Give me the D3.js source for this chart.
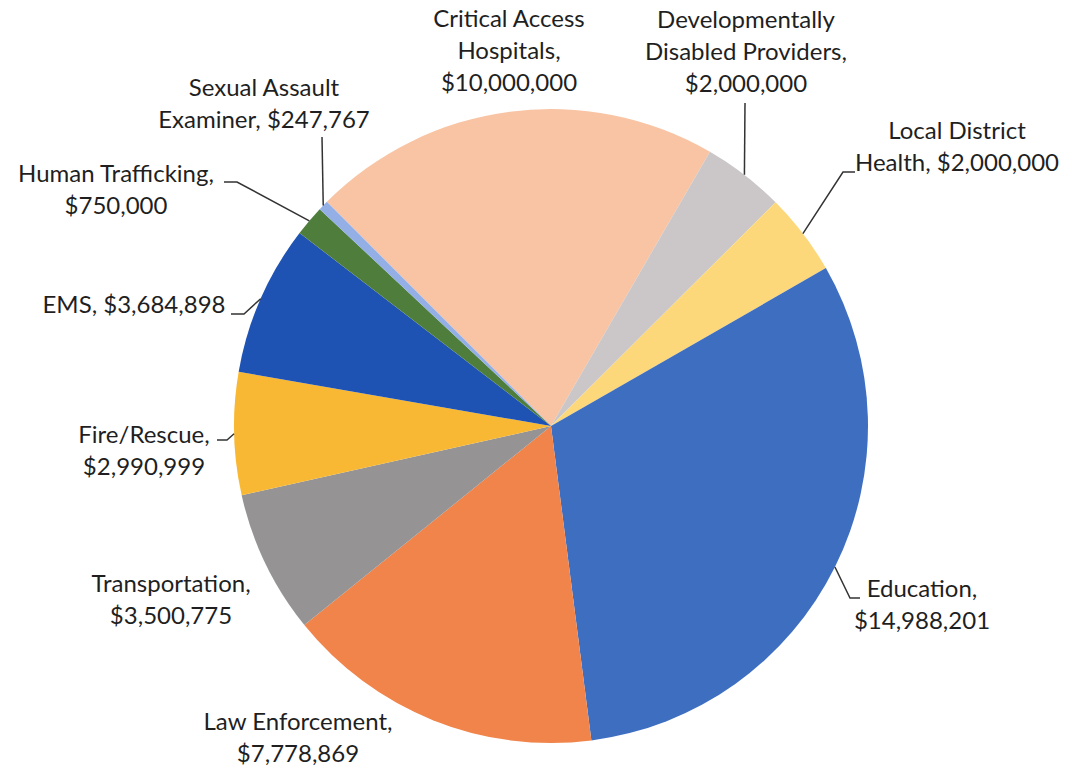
<!DOCTYPE html>
<html>
<head>
<meta charset="utf-8">
<script src="https://cdn.jsdelivr.net/npm/d3@7"></script>
<style>
  html, body { margin: 0; padding: 0; background: #ffffff; }
  svg { display: block; }
  .lbl { font-family: Lato, "Open Sans", "Noto Sans", sans-serif; fill: #1f1f1f; }
</style>
</head>
<body>
<svg id="chart" width="1065" height="766"></svg>
<script>
// Funding by program area (dollars), listed clockwise
const categories = [
  "Critical Access Hospitals",
  "Developmentally Disabled Providers",
  "Local District Health",
  "Education",
  "Law Enforcement",
  "Transportation",
  "Fire/Rescue",
  "EMS",
  "Human Trafficking",
  "Sexual Assault Examiner"
];
const values = [
  10000000,
  2000000,
  2000000,
  14988201,
  7778869,
  3500775,
  2990999,
  3684898,
  750000,
  247767
];
const colors = [
  "#F8C4A4", "#CBC7C8", "#FDD87A", "#3E6EC0", "#F0844A",
  "#959393", "#F8B833", "#1F53B3", "#4F7D3B", "#93AFE6"
];

// Label layout: words per line, centre x, first baseline y, leader anchor / elbow
const labelLayout = [
  { lines: [2, 1, 1], x: 509, y: 27 },
  { lines: [1, 2, 1], x: 746, y: 28, anchor: [745, 103] },
  { lines: [2, 2], x: 957, y: 139, anchor: [855, 172], elbow: [843, 172] },
  { lines: [1, 1], x: 922, y: 597, anchor: [860, 598], elbow: [850, 598] },
  { lines: [2, 1], x: 298, y: 730 },
  { lines: [1, 1], x: 171, y: 592 },
  { lines: [1, 1], x: 144, y: 443, anchor: [217, 440], elbow: [227, 440] },
  { lines: [2], x: 134, y: 313, anchor: [231, 314], elbow: [244, 314] },
  { lines: [2, 1], x: 116, y: 182, anchor: [224, 182], elbow: [237, 182] },
  { lines: [2, 2], x: 264, y: 96, anchor: [322, 137] }
];

const cx = 551, cy = 426, radius = 317;
const startDeg = -45;
const fontSize = 24, lineHeight = 32;

const svg = d3.select("#chart");
const g = svg.append("g").attr("transform", `translate(${cx},${cy})`);

const data = categories.map((c, i) => ({ name: c, value: values[i], i }));

const pie = d3.pie()
  .value(d => d.value)
  .sort(null)
  .startAngle(startDeg * Math.PI / 180)
  .endAngle((startDeg + 360) * Math.PI / 180);

const arcs = pie(data);
const arc = d3.arc().innerRadius(0).outerRadius(radius);
const rim = d3.arc().innerRadius(radius).outerRadius(radius);

g.selectAll("path.slice")
  .data(arcs)
  .join("path")
  .attr("class", "slice")
  .attr("d", arc)
  .attr("fill", d => colors[d.data.i]);

const fmt = d3.format("$,");

// Leader lines from label to the slice rim at its mid-angle
const lineGen = d3.line();
arcs.forEach(a => {
  const L = labelLayout[a.data.i];
  if (!L.anchor) return;
  const c = rim.centroid(a);
  const pts = [L.anchor];
  if (L.elbow) pts.push(L.elbow);
  pts.push([cx + c[0], cy + c[1]]);
  svg.append("path")
    .attr("d", lineGen(pts))
    .attr("fill", "none")
    .attr("stroke", "#333333")
    .attr("stroke-width", 1.5);
});

// Data labels: "Name, $value" wrapped by word counts
arcs.forEach(a => {
  const L = labelLayout[a.data.i];
  const words = (a.data.name + ", " + fmt(a.data.value)).split(" ");
  let k = 0;
  const t = svg.append("text")
    .attr("class", "lbl")
    .attr("text-anchor", "middle")
    .attr("font-size", fontSize);
  L.lines.forEach((n, li) => {
    t.append("tspan")
      .attr("x", L.x)
      .attr("y", L.y + li * lineHeight)
      .text(words.slice(k, k + n).join(" "));
    k += n;
  });
});
</script>
</body>
</html>
